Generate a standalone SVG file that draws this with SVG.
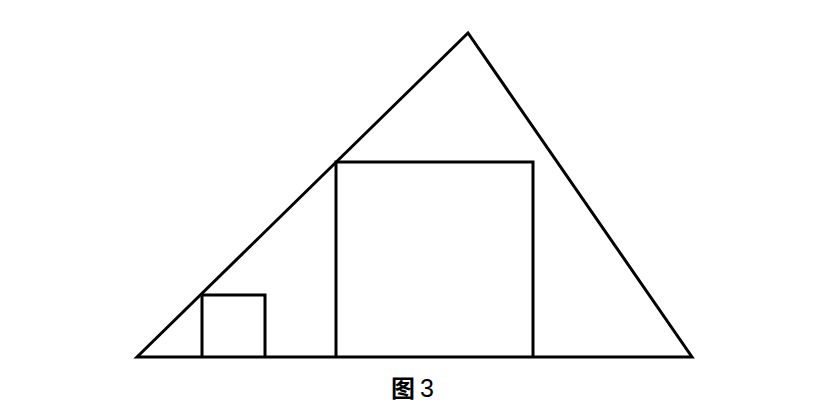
<svg xmlns="http://www.w3.org/2000/svg" width="820" height="416" viewBox="0 0 820 416">
<style>
.s{fill:none;stroke:#000;stroke-width:3;stroke-linejoin:miter}
.t{font-family:"Noto Sans CJK SC","Liberation Serif",serif;font-size:24px;font-weight:bold;fill:#000}
</style>
<rect width="820" height="416" fill="#fff"/>
<g id="triangle"><polygon class="s" points="137,357 468,33 692,357"/></g>
<g id="bigSquare"><polyline class="s" points="336,357 336,162 533,162 533,357"/></g>
<g id="smallSquare"><polyline class="s" points="202,357 202,295 265,295 265,357"/></g>
<g id="label"><text class="t" x="391" y="397">图<tspan x="420" font-family="Liberation Sans" font-size="25" font-weight="normal">3</tspan></text></g>
</svg>
